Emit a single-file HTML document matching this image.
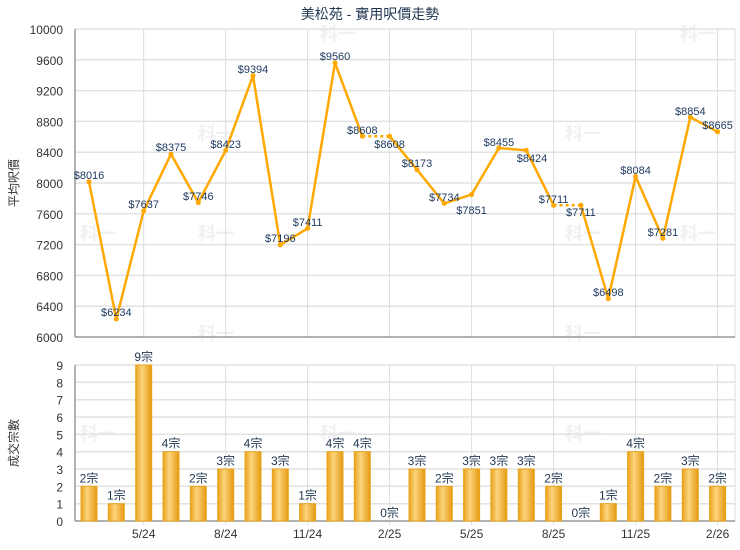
<!DOCTYPE html>
<html><head><meta charset="utf-8"><style>
html,body{margin:0;padding:0;background:#fff;}
svg{display:block;font-family:"Liberation Sans","Noto Sans CJK TC",sans-serif;}
</style></head><body>
<svg width="740" height="550" viewBox="0 0 740 550" xmlns="http://www.w3.org/2000/svg">
<defs>
<linearGradient id="bg" x1="0" x2="1" y1="0" y2="0">
<stop offset="0" stop-color="#e9a21a"/><stop offset="0.4" stop-color="#fdd47e"/><stop offset="1" stop-color="#e39a10"/>
</linearGradient>
</defs>
<text x="370" y="19" text-anchor="middle" font-size="14" fill="#1f3550">美松苑 - 實用呎價走勢</text>
<g font-size="18" font-weight="bold" fill="#f0f0f0">
<text x="198" y="140">科一</text><text x="198" y="240">科一</text><text x="198" y="340">科一</text>
<text x="565" y="140">科一</text><text x="565" y="240">科一</text><text x="565" y="340">科一</text>
<text x="80" y="240">科一</text><text x="680" y="240">科一</text><text x="80" y="440">科一</text><text x="565" y="440">科一</text><text x="320" y="440">科一</text>
<text x="320" y="40">科一</text><text x="680" y="40">科一</text>
</g>
<g stroke="#e2e2e2" stroke-width="1.5">
<line x1="75" x2="735" y1="29" y2="29"/><line x1="75" x2="735" y1="59.8" y2="59.8"/><line x1="75" x2="735" y1="90.6" y2="90.6"/><line x1="75" x2="735" y1="121.4" y2="121.4"/><line x1="75" x2="735" y1="152.2" y2="152.2"/><line x1="75" x2="735" y1="183" y2="183"/><line x1="75" x2="735" y1="213.8" y2="213.8"/><line x1="75" x2="735" y1="244.6" y2="244.6"/><line x1="75" x2="735" y1="275.4" y2="275.4"/><line x1="75" x2="735" y1="306.2" y2="306.2"/>
<line x1="75" x2="735" y1="503.7" y2="503.7"/><line x1="75" x2="735" y1="486.3" y2="486.3"/><line x1="75" x2="735" y1="469" y2="469"/><line x1="75" x2="735" y1="451.7" y2="451.7"/><line x1="75" x2="735" y1="434.3" y2="434.3"/><line x1="75" x2="735" y1="417" y2="417"/><line x1="75" x2="735" y1="399.7" y2="399.7"/><line x1="75" x2="735" y1="382.3" y2="382.3"/><line x1="75" x2="735" y1="365" y2="365"/>
</g>
<g stroke="#dcdcdc" stroke-width="1">
<line x1="143.7" x2="143.7" y1="29" y2="337"/><line x1="225.7" x2="225.7" y1="29" y2="337"/><line x1="307.6" x2="307.6" y1="29" y2="337"/><line x1="389.6" x2="389.6" y1="29" y2="337"/><line x1="471.6" x2="471.6" y1="29" y2="337"/><line x1="553.6" x2="553.6" y1="29" y2="337"/><line x1="635.6" x2="635.6" y1="29" y2="337"/><line x1="717.6" x2="717.6" y1="29" y2="337"/><line x1="735" x2="735" y1="29" y2="337"/>
<line x1="143.7" x2="143.7" y1="365" y2="525"/><line x1="225.7" x2="225.7" y1="365" y2="525"/><line x1="307.6" x2="307.6" y1="365" y2="525"/><line x1="389.6" x2="389.6" y1="365" y2="525"/><line x1="471.6" x2="471.6" y1="365" y2="525"/><line x1="553.6" x2="553.6" y1="365" y2="525"/><line x1="635.6" x2="635.6" y1="365" y2="525"/><line x1="717.6" x2="717.6" y1="365" y2="525"/><line x1="735" x2="735" y1="365" y2="521"/>
</g>
<g font-size="12" fill="#333" text-anchor="end">
<text x="63" y="34">10000</text><text x="63" y="64.8">9600</text><text x="63" y="95.6">9200</text><text x="63" y="126.4">8800</text><text x="63" y="157.2">8400</text><text x="63" y="188">8000</text><text x="63" y="218.8">7600</text><text x="63" y="249.6">7200</text><text x="63" y="280.4">6800</text><text x="63" y="311.2">6400</text><text x="63" y="342">6000</text>
<text x="63" y="526">0</text><text x="63" y="508.7">1</text><text x="63" y="491.3">2</text><text x="63" y="474">3</text><text x="63" y="456.7">4</text><text x="63" y="439.3">5</text><text x="63" y="422">6</text><text x="63" y="404.7">7</text><text x="63" y="387.3">8</text><text x="63" y="370">9</text>
</g>
<g font-size="12" fill="#333" text-anchor="middle">
<text x="143.7" y="538">5/24</text><text x="225.7" y="538">8/24</text><text x="307.6" y="538">11/24</text><text x="389.6" y="538">2/25</text><text x="471.6" y="538">5/25</text><text x="553.6" y="538">8/25</text><text x="635.6" y="538">11/25</text><text x="717.6" y="538">2/26</text>
<text transform="translate(18,183) rotate(-90)">平均呎價</text>
<text transform="translate(18,443) rotate(-90)">成交宗數</text>
</g>
<g stroke="#999" stroke-width="1.5">
<line x1="75" x2="75" y1="29" y2="337"/><line x1="75" x2="735" y1="337" y2="337"/>
<line x1="75" x2="75" y1="365" y2="521"/><line x1="75" x2="735" y1="521" y2="521"/>
</g>
<g fill="url(#bg)" stroke="#e8a41c" stroke-width="1">
<rect x="81" y="486.3" width="16" height="34.7"/>
<rect x="108.3" y="503.7" width="16" height="17.3"/>
<rect x="135.7" y="365" width="16" height="156"/>
<rect x="163" y="451.7" width="16" height="69.3"/>
<rect x="190.3" y="486.3" width="16" height="34.7"/>
<rect x="217.7" y="469" width="16" height="52"/>
<rect x="245" y="451.7" width="16" height="69.3"/>
<rect x="272.3" y="469" width="16" height="52"/>
<rect x="299.6" y="503.7" width="16" height="17.3"/>
<rect x="327" y="451.7" width="16" height="69.3"/>
<rect x="354.3" y="451.7" width="16" height="69.3"/>
<rect x="409" y="469" width="16" height="52"/>
<rect x="436.3" y="486.3" width="16" height="34.7"/>
<rect x="463.6" y="469" width="16" height="52"/>
<rect x="490.9" y="469" width="16" height="52"/>
<rect x="518.3" y="469" width="16" height="52"/>
<rect x="545.6" y="486.3" width="16" height="34.7"/>
<rect x="600.3" y="503.7" width="16" height="17.3"/>
<rect x="627.6" y="451.7" width="16" height="69.3"/>
<rect x="654.9" y="486.3" width="16" height="34.7"/>
<rect x="682.3" y="469" width="16" height="52"/>
<rect x="709.6" y="486.3" width="16" height="34.7"/>
</g>
<g font-size="12" fill="#1f3550" text-anchor="middle">
<text x="89" y="482.3">2宗</text><text x="116.3" y="499.7">1宗</text><text x="143.7" y="361">9宗</text><text x="171" y="447.7">4宗</text><text x="198.3" y="482.3">2宗</text><text x="225.7" y="465">3宗</text><text x="253" y="447.7">4宗</text><text x="280.3" y="465">3宗</text><text x="307.6" y="499.7">1宗</text><text x="335" y="447.7">4宗</text><text x="362.3" y="447.7">4宗</text><text x="389.6" y="517">0宗</text><text x="417" y="465">3宗</text><text x="444.3" y="482.3">2宗</text><text x="471.6" y="465">3宗</text><text x="498.9" y="465">3宗</text><text x="526.3" y="465">3宗</text><text x="553.6" y="482.3">2宗</text><text x="580.9" y="517">0宗</text><text x="608.3" y="499.7">1宗</text><text x="635.6" y="447.7">4宗</text><text x="662.9" y="482.3">2宗</text><text x="690.3" y="465">3宗</text><text x="717.6" y="482.3">2宗</text>
</g>
<g fill="none" stroke="#ffa800" stroke-width="2.5" stroke-linejoin="round">
<polyline points="89,181.8 116.3,319 143.7,210.9 171,154.1 198.3,202.6 225.7,150.4 253,75.7 280.3,244.9 307.6,228.4 335,62.9 362.3,136.2"/>
<polyline points="389.6,136.2 417,169.7 444.3,203.5 471.6,194.5 498.9,148 526.3,150.4 553.6,205.3"/>
<polyline points="580.9,205.3 608.3,298.7 635.6,176.5 662.9,238.4 690.3,117.2 717.6,131.8"/>
<line x1="362.3" y1="136.2" x2="389.6" y2="136.2" stroke-dasharray="3,3"/>
<line x1="553.6" y1="205.3" x2="580.9" y2="205.3" stroke-dasharray="3,3"/>
</g>
<g fill="#ffa800">
<circle cx="89" cy="181.8" r="2.5"/><circle cx="116.3" cy="319" r="2.5"/><circle cx="143.7" cy="210.9" r="2.5"/><circle cx="171" cy="154.1" r="2.5"/><circle cx="198.3" cy="202.6" r="2.5"/><circle cx="225.7" cy="150.4" r="2.5"/><circle cx="253" cy="75.7" r="2.5"/><circle cx="280.3" cy="244.9" r="2.5"/><circle cx="307.6" cy="228.4" r="2.5"/><circle cx="335" cy="62.9" r="2.5"/><circle cx="362.3" cy="136.2" r="2.5"/><circle cx="389.6" cy="136.2" r="2.5"/><circle cx="417" cy="169.7" r="2.5"/><circle cx="444.3" cy="203.5" r="2.5"/><circle cx="471.6" cy="194.5" r="2.5"/><circle cx="498.9" cy="148" r="2.5"/><circle cx="526.3" cy="150.4" r="2.5"/><circle cx="553.6" cy="205.3" r="2.5"/><circle cx="580.9" cy="205.3" r="2.5"/><circle cx="608.3" cy="298.7" r="2.5"/><circle cx="635.6" cy="176.5" r="2.5"/><circle cx="662.9" cy="238.4" r="2.5"/><circle cx="690.3" cy="117.2" r="2.5"/><circle cx="717.6" cy="131.8" r="2.5"/>
</g>
<g font-size="11" fill="#1f3a60" text-anchor="middle">
<text x="89" y="179">$8016</text><text x="116.3" y="316">$6234</text><text x="143.7" y="208">$7637</text><text x="171" y="151">$8375</text><text x="198.3" y="200">$7746</text><text x="225.7" y="148">$8423</text><text x="253" y="73">$9394</text><text x="280.3" y="242">$7196</text><text x="307.6" y="226">$7411</text><text x="335" y="60">$9560</text><text x="362.3" y="134">$8608</text><text x="389.6" y="148">$8608</text><text x="417" y="167">$8173</text><text x="444.3" y="201">$7734</text><text x="471.6" y="214">$7851</text><text x="498.9" y="146">$8455</text><text x="532" y="162">$8424</text><text x="553.6" y="203">$7711</text><text x="580.9" y="216">$7711</text><text x="608.3" y="296">$6498</text><text x="635.6" y="174">$8084</text><text x="662.9" y="236">$7281</text><text x="690.3" y="115">$8854</text><text x="717.6" y="129">$8665</text>
</g>
</svg>
</body></html>
